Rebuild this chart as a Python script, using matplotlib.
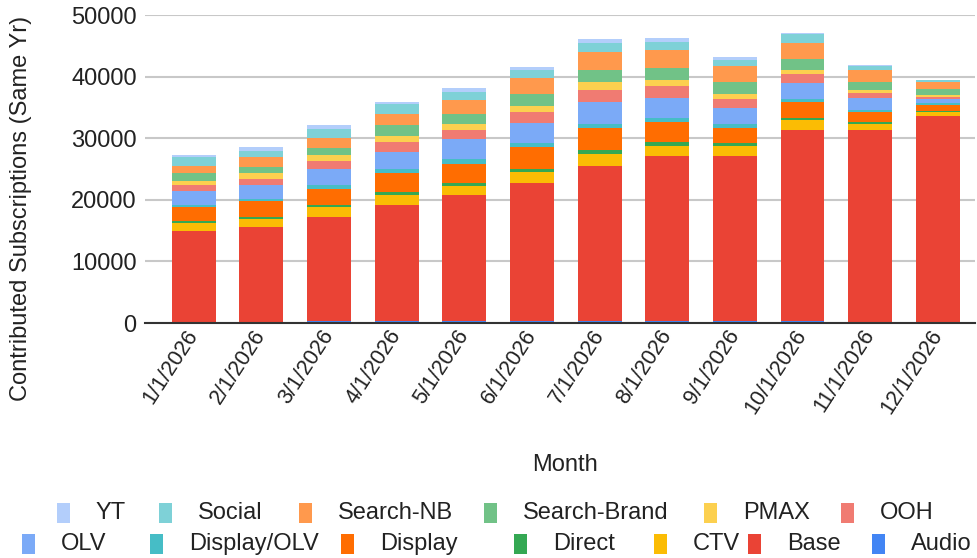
import matplotlib
matplotlib.use("Agg")
import matplotlib.pyplot as plt
import matplotlib.transforms as mtransforms
from matplotlib.patches import FancyBboxPatch
import numpy as np

plt.rcParams['font.family'] = ['Liberation Sans', 'DejaVu Sans']

months = ["1/1/2026", "2/1/2026", "3/1/2026", "4/1/2026", "5/1/2026", "6/1/2026",
          "7/1/2026", "8/1/2026", "9/1/2026", "10/1/2026", "11/1/2026", "12/1/2026"]

# stacked bottom -> top
audio        = [0,     0,     300,   350,   350,   400,   400,   400,   400,   400,   0,     0]
base         = [15000, 15580, 16850, 18800, 20420, 22270, 25150, 26750, 26750, 31000, 31320, 33650]
ctv          = [1250,  1300,  1620,  1620,  1510,  1890,  1950,  1620,  1620,  1510,  970,   650]
direct       = [370,   330,   380,   540,   380,   430,   650,   650,   380,   380,   380,   100]
display      = [2170,  2540,  2540,  2980,  3190,  3520,  3520,  3250,  2540,  2600,  1620,  970]
display_olv  = [380,   380,   650,   650,   700,   650,   600,   540,   540,   540,   270,   270]
olv          = [2220,  2330,  2600,  2870,  3250,  3250,  3620,  3350,  2700,  2600,  2000,  650]
ooh          = [970,   920,   1300,  1620,  1510,  1890,  1890,  1950,  1510,  1350,  700,   380]
pmax         = [650,   970,   970,   970,   970,   970,   1350,  920,   700,   650,   540,   270]
search_brand = [1300,  920,   1240,  1680,  1620,  1890,  1890,  1890,  2000,  1890,  1350,  970]
search_nb    = [1230,  1680,  1620,  1840,  2270,  2540,  2920,  2980,  2540,  2600,  1890,  1240]
social       = [1360,  900,   1350,  1620,  1350,  1350,  1570,  1350,  1080,  1350,  700,   270]
yt           = [370,   650,   650,   380,   650,   540,   650,   540,   430,   220,   220,   50]

series_names = ["Audio", "Base", "CTV", "Direct", "Display", "Display/OLV", "OLV",
                "OOH", "PMAX", "Search-Brand", "Search-NB", "Social", "YT"]
series_values = [audio, base, ctv, direct, display, display_olv, olv,
                 ooh, pmax, search_brand, search_nb, social, yt]
series_colors = ["#4285F4", "#EA4335", "#FBBC04", "#34A853", "#FF6D01", "#46BDC6", "#7BAAF7",
                 "#F07B72", "#FCD04F", "#71C287", "#FF994D", "#7ED1D7", "#B3CEFB"]

yticks = [0, 10000, 20000, 30000, 40000, 50000]

fig = plt.figure(figsize=(9.77, 5.58), dpi=100)
ax = fig.add_axes([145/977, 1 - 323/558, (975 - 145)/977, (323 - 15)/558])

x = np.arange(len(months))
bottom = np.zeros(len(months))
for name, vals, col in zip(series_names, series_values, series_colors):
    v = np.array(vals, dtype=float)
    ax.bar(x, v, width=0.65, bottom=bottom, color=col, label=name, zorder=3, linewidth=0)
    bottom += v

ax.set_xlim(-0.72, 11.55)
ax.set_ylim(0, 50000)
ax.set_yticks(yticks)
ax.set_yticklabels([str(t) for t in yticks], fontsize=17, color="#222222")
ax.set_xticks(x)
ax.set_xticklabels(months, rotation=57, ha="right", va="center", rotation_mode="anchor",
                   fontsize=15.5, color="#222222")
offset = mtransforms.ScaledTranslation(10/100, 0, fig.dpi_scale_trans)
for lbl in ax.get_xticklabels():
    lbl.set_transform(lbl.get_transform() + offset)
ax.tick_params(axis="both", length=0)
ax.tick_params(axis="y", pad=6)
ax.tick_params(axis="x", pad=6)
ax.grid(axis="y", color="#c8c8c8", linewidth=1.5, zorder=0)
for s in ["left", "right", "top"]:
    ax.spines[s].set_visible(False)
ax.spines["bottom"].set_color("#333333")
ax.spines["bottom"].set_linewidth(1.5)
ax.spines["bottom"].set_zorder(4)

fig.text(21/977, 1 - 208/558, "Contributed Subscriptions (Same Yr)", fontsize=17, color="#222222",
         rotation=90, ha="center", va="center")
fig.text(565/977, 1 - 465/558, "Month", fontsize=17, color="#222222", ha="center", va="center")

# legend, two rows as in the reference (top of stack first)
legend_rows = [
    ["YT", "Social", "Search-NB", "Search-Brand", "PMAX", "OOH"],
    ["OLV", "Display/OLV", "Display", "Direct", "CTV", "Base", "Audio"],
]
row_y = [513, 544]
row_patch_x = [
    [57, 159, 299, 484, 704, 841],
    [22, 150, 341, 514, 654, 748, 872],
]
color_of = dict(zip(series_names, series_colors))
for labels, yy, pxs in zip(legend_rows, row_y, row_patch_x):
    for lab, px in zip(labels, pxs):
        w, h = 13, 20
        rect = FancyBboxPatch((px / 977, 1 - (yy + h / 2) / 558), w / 977, h / 558,
                              boxstyle="square,pad=0",
                              transform=fig.transFigure, facecolor=color_of[lab],
                              edgecolor="none")
        fig.patches.append(rect)
        fig.text((px + w + 26) / 977, 1 - yy / 558, lab, fontsize=17, color="#222222",
                 ha="left", va="center")

fig.savefig("out.png", dpi=100)
